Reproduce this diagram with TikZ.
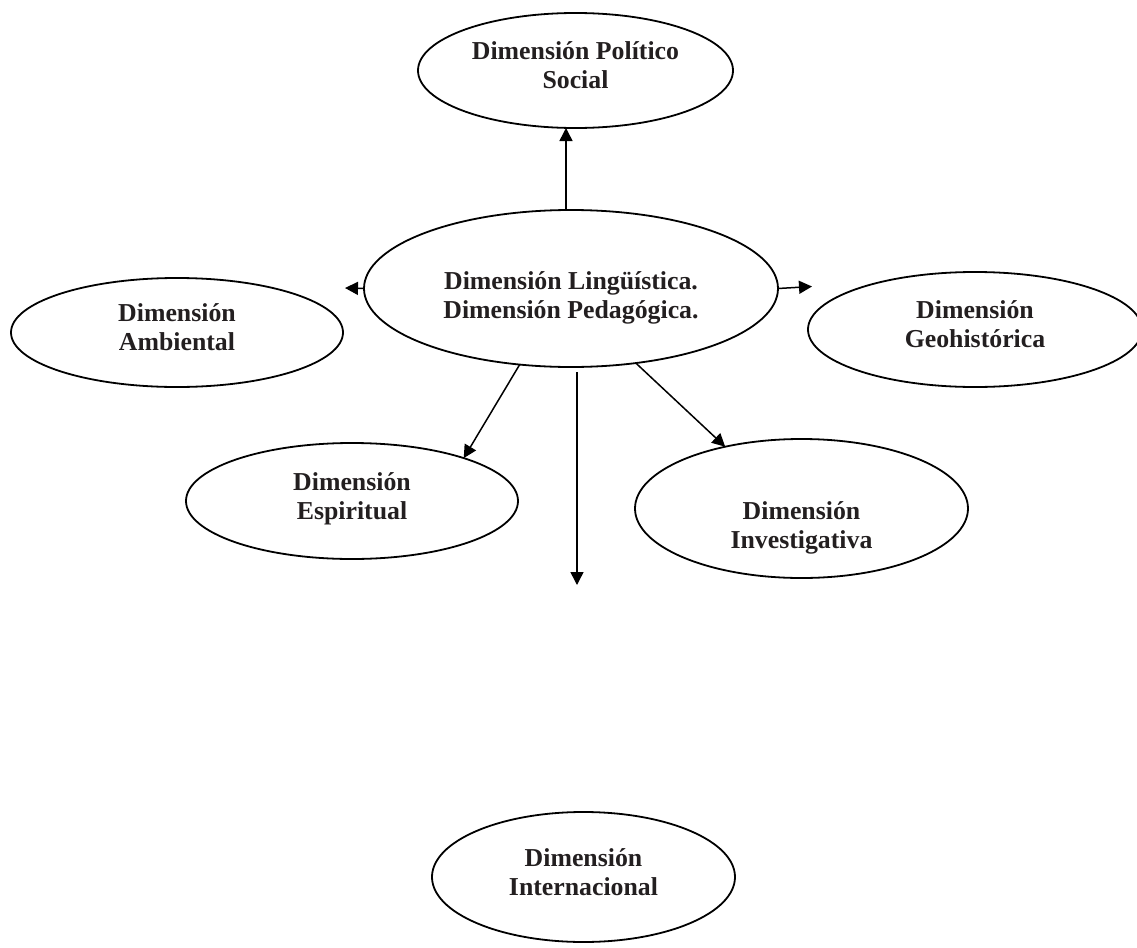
\documentclass[tikz,border=0pt]{standalone}
\usepackage{fontspec}
\setmainfont{Liberation Serif}
\usetikzlibrary{shapes.geometric,arrows.meta}
\definecolor{inkdark}{RGB}{35,31,32}

\begin{document}
\begin{tikzpicture}
[
    x=0.5pt, y=-0.5pt,
    dim/.style={draw, ellipse, line width=0.9pt, inner sep=0pt, outer sep=0pt,
        align=center, text=inkdark, font=\bfseries\fontsize{12.9}{14.5}\selectfont},
    lift/.style={execute at end node={\rule[-5pt]{0pt}{0pt}}},
    arr/.style={-{Triangle[length=6.5pt,width=6.5pt]}, line width=0.75pt},
]
\useasboundingbox (0,0) rectangle (1137,948);
% centro
\node [dim, minimum width=207pt, minimum height=78.5pt] (central) at (571,288.5)
{\rule{0pt}{18pt}Dimensión Lingüística.\\Dimensión Pedagógica.};
% alrededor
\node [dim, lift, minimum width=157.5pt, minimum height=57.5pt] (politico) at (575.5,70.5)
{Dimensión Político\\Social};
\node [dim, lift, minimum width=166pt, minimum height=54.5pt] (ambiental) at (177,332.5)
{Dimensión\\Ambiental};
\node [dim, lift, minimum width=167pt, minimum height=57.5pt] (geohist) at (975,329.5)
{Dimensión\\Geohistórica};
\node [dim, lift, minimum width=166pt, minimum height=58pt] (espiritual) at (352,501)
{Dimensión\\Espiritual};
\node [dim, minimum width=166.5pt, minimum height=69.5pt] (investig) at (801.5,508.5)
{\rule{0pt}{28pt}Dimensión\\Investigativa};
\node [dim, lift, minimum width=151.5pt, minimum height=65pt] (internac) at (583.5,877)
{Dimensión\\Internacional};
% puntas sueltas
\coordinate (ambtip) at (345,288);
\coordinate (geotip) at (812,286.5);
\coordinate (inttip) at (577,585);
% flechas
\draw [arr] ([xshift=-2.5pt]central.north) -- ([xshift=-2.5pt]central.north |- politico.south);
\draw [arr] (central.west) -- (ambtip);
\draw [arr] (central.east) -- (geotip);
\draw [arr] (central.236.3) -- (espiritual.21.5);
\draw [arr] ([yshift=-2.5pt]central.south -| inttip) -- (inttip);
\draw [arr] (central.311) -- (investig.141.8);
\end{tikzpicture}
\end{document}
